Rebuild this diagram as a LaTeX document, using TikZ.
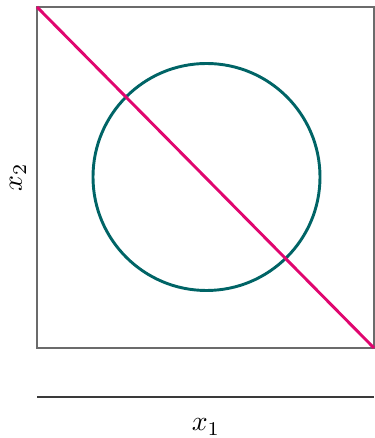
\documentclass[tikz,border=0pt]{standalone}
\usepackage{xcolor}
\usepackage{amsmath,amssymb}
\usepackage{tikz}
\usetikzlibrary{positioning,calc}
\definecolor{frame}{HTML}{6B6B6B}
\definecolor{axis}{HTML}{3A3A3A}
\definecolor{magenta}{HTML}{E0066F}
\definecolor{teal}{HTML}{006466}
\tikzset{
  box/.style={draw=frame,line width=0.45pt},
  bound/.style={draw=magenta,line width=1.05pt},
  ring/.style={draw=teal,line width=1.05pt},
  rule/.style={draw=axis,line width=0.45pt},
  lbl/.style={font=\normalsize,inner sep=0pt},
}

\begin{document}
\begin{tikzpicture}[x=0.36pt,y=0.36pt]
  \useasboundingbox (0,0) rectangle (374,438);
  \coordinate (ll) at (37,90);
  \coordinate (ur) at (374,431);
  \coordinate (ctr) at (206.5,261);
  \draw[box] (ll) rectangle (ur);
  \draw[ring] (ctr) circle (113.5);
  \draw[bound] (ll |- ur) -- (ur |- ll);
  \draw[rule] (37,41) -- (374,41);
  \node[lbl] (xa) at (206,11) {$x_1$};
  \node[lbl,rotate=90] (xb) at (18,261) {$x_2$};
\end{tikzpicture}
\end{document}
